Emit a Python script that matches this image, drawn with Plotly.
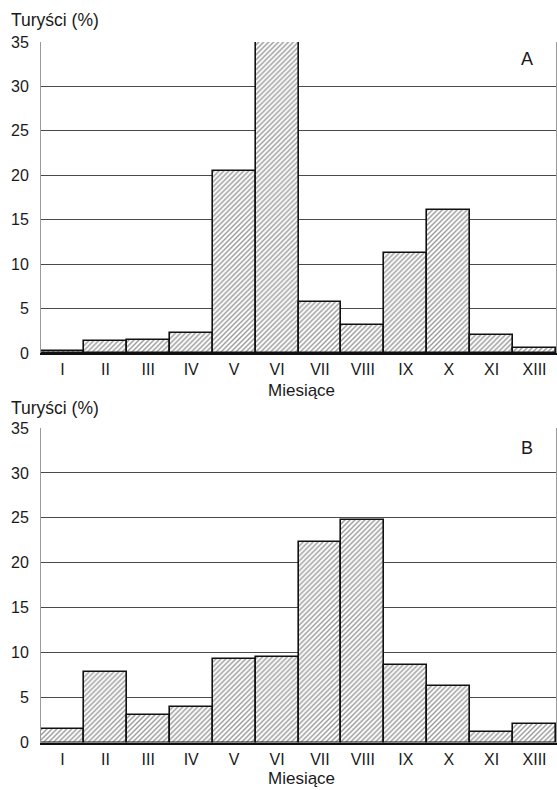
import plotly.graph_objects as go
from plotly.subplots import make_subplots

months = ["I", "II", "III", "IV", "V", "VI", "VII", "VIII", "IX", "X", "XI", "XIII"]
values_a = [0.2, 1.4, 1.5, 2.2, 20.5, 35.0, 5.7, 3.2, 11.2, 16.1, 2.0, 0.6]
values_b = [1.5, 7.8, 3.1, 3.9, 9.3, 9.5, 22.3, 24.8, 8.6, 6.3, 1.2, 2.1]
y_ticks = [0, 5, 10, 15, 20, 25, 30, 35]
y_title = "Turyści (%)"
x_title = "Miesiące"
panel_labels = ["A", "B"]

W, H = 557, 790
ML, MR = 41, 1
PW = W - ML - MR
FONT = "Liberation Sans, Arial, sans-serif"
TXT = "#1a1a1a"

fig = make_subplots(rows=2, cols=1)

def add_bars(vals, row):
    fig.add_trace(go.Bar(
        x=months, y=vals,
        marker=dict(
            color="white",
            line=dict(color="#111111", width=1.6),
            pattern=dict(shape="/", fgcolor="#333333", bgcolor="white",
                         size=3.5, solidity=0.4),
        ),
        showlegend=False,
    ), row=row, col=1)

add_bars(values_a, 1)
add_bars(values_b, 2)

def py(px):
    return 1 - px / H

def px_(x):
    return (x - ML) / PW

dom_a = [py(353), py(42)]
dom_b = [py(742.5), py(428)]

common_y = dict(
    range=[0, 35], tickvals=y_ticks, ticks="", showgrid=True,
    gridcolor="#4a4a4a", gridwidth=1, zeroline=False,
    showline=True, linecolor="#9a9a9a", linewidth=1, mirror=True,
    tickfont=dict(family=FONT, size=16, color=TXT), ticklabelstandoff=8,
    automargin=False,
)
common_x = dict(
    showline=True, linecolor="#111111", linewidth=2, ticks="",
    tickfont=dict(family=FONT, size=16, color=TXT), showgrid=False,
    ticklabelstandoff=1, automargin=False,
)
fig.update_yaxes(domain=dom_a, row=1, col=1, **common_y)
fig.update_yaxes(domain=dom_b, row=2, col=1, **common_y)
fig.update_xaxes(row=1, col=1, **common_x)
fig.update_xaxes(row=2, col=1, **common_x)

annots = [
    dict(text=y_title, x=px_(9), y=py(19.5), xanchor="left", yanchor="middle", size=17.5),
    dict(text=y_title, x=px_(9), y=py(408), xanchor="left", yanchor="middle", size=17.5),
    dict(text=x_title, x=px_(301), y=py(390), xanchor="center", yanchor="middle", size=17),
    dict(text=x_title, x=px_(301), y=py(778.5), xanchor="center", yanchor="middle", size=17),
    dict(text=panel_labels[0], x=px_(527), y=py(59), xanchor="center", yanchor="middle", size=18),
    dict(text=panel_labels[1], x=px_(527), y=py(448), xanchor="center", yanchor="middle", size=18),
]
for a in annots:
    size = a.pop("size", 16)
    fig.add_annotation(xref="paper", yref="paper", showarrow=False,
                       font=dict(family=FONT, size=size, color=TXT), **a)

fig.update_layout(
    width=W, height=H,
    margin=dict(l=ML, r=MR, t=0, b=0, autoexpand=False),
    paper_bgcolor="white", plot_bgcolor="white",
    bargap=0,
)

fig.write_html("out.html", config={"displayModeBar": False},
               post_script="document.body.style.margin='0';document.body.style.overflow='hidden';")
